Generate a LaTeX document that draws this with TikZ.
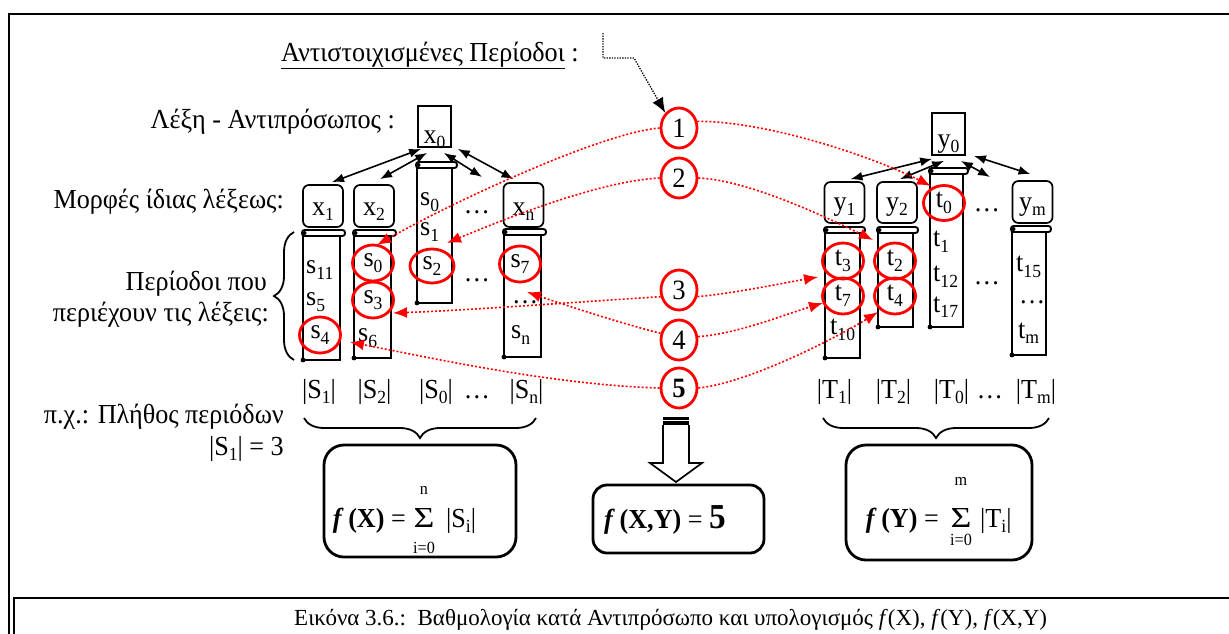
\documentclass[tikz,border=0pt]{standalone}
\usepackage{fontspec}
\setmainfont{Liberation Serif}[FakeStretch=0.95]
\newfontfamily\capfont{Liberation Serif}
\usetikzlibrary{arrows.meta,shapes.geometric,decorations.pathreplacing}

\newcommand\setfs[1]{\fontsize{#1}{#1}\selectfont}
\newcommand\sbs[1]{\raisebox{-0.2em}{\setfs{18.5}#1}}
\newcommand\bigsum{\scalebox{1.3}[1]{\setfs{29}Σ}}
% scroll: left, right, roll line, bottom
\newcommand\scrollat[4]{%
  \draw[scrollline] (#1,#3) -- (#1,#4) -- (#2,#4) -- (#2,#3);
  \draw[scrollline, fill=white, rounded corners=2.6pt] (#1-1,#3-3) rectangle (#2+5,#3+3);
  \fill (#1+1.5,#3) circle (2pt);
  \fill (#1,#4) circle (2.4pt);
}

\begin{document}
\begin{tikzpicture}[x=1pt,y=-1pt,
  lbl/.style={inner sep=0pt, font=\setfs{27.5}},
  rbox/.style={draw, line width=1.7pt, rounded corners=6pt, minimum width=40pt, inner sep=0pt, font=\setfs{27.5}},
  sqbox/.style={draw, line width=1.7pt, minimum width=33pt, inner sep=0pt, font=\setfs{27.5}},
  ring/.style={ellipse, draw=red, line width=2.8pt, inner sep=0pt, minimum width=41pt, minimum height=36pt, font=\setfs{27.5}},
  num/.style={ellipse, draw=red, line width=2.8pt, inner sep=0pt, minimum width=36pt, minimum height=40pt, font=\setfs{28}},
  link/.style={red, line width=1.6pt, dash pattern=on 2pt off 2pt, -{Latex[length=14pt,width=11pt]}},
  tree/.style={line width=1.6pt, {Latex[length=12pt,width=9pt]}-{Latex[length=12pt,width=9pt]}},
  hintline/.style={line width=1.3pt, dash pattern=on 1.3pt off 1.3pt, -{Latex[length=15pt,width=12pt]}},
  scrollline/.style={line width=1.9pt},
  fbox/.style={draw, line width=2.8pt, rounded corners=20pt},
  brc/.style={decorate, decoration={brace, amplitude=20pt}, line width=1.8pt}]
\useasboundingbox (0,0) rectangle (1229,633);

% frame and caption box
\draw[line width=2.2pt] (9,650) -- (9,14) -- (1250,14);
\draw[line width=2pt] (14,650) -- (14,598) -- (1250,598);
\node[inner sep=0pt, anchor=base west, font=\capfont\setfs{23}] (cap) at (294,625)
  {Εικόνα 3.6.:\ \ Βαθμολογία κατά Αντιπρόσωπο και υπολογισμός \textit{f}(X), \textit{f}(Y), \textit{f}(X,Y)};

% titles on the left
\node[lbl, anchor=base west] (title) at (281,61) {\underline{Αντιστοιχισμένες Περίοδοι} :};
\coordinate (hint) at (603,33);
\node[lbl, anchor=base east] (lrep) at (395,128) {Λέξη - Αντιπρόσωπος :};
\node[lbl, anchor=base east] (lforms) at (284,208) {Μορφές ίδιας λέξεως:};
\node[lbl, anchor=base east] (lper1) at (267,290) {Περίοδοι που};
\node[lbl, anchor=base east] (lper2) at (269,321) {περιέχουν τις λέξεις:};
\node[lbl, anchor=base east] (lex1) at (284,423) {π.χ.: Πλήθος περιόδων};
\node[lbl, anchor=base east] (lex2) at (284,455) {|S\sbs{1}| = 3};

% scrolls of periods
\scrollat{303}{340}{233}{360}
\scrollat{354}{391}{233}{358}
\scrollat{417}{452}{165}{303}
\scrollat{504}{541}{232}{357}
\scrollat{825}{860}{230}{358}
\scrollat{878}{913}{230}{327}
\scrollat{930}{963}{171}{327}
\scrollat{1012}{1046}{229}{355}

% word forms
\node[sqbox, text height=37pt, text depth=4pt, anchor=base] (x0) at (434.5,143) {x\sbs{0}};
\node[rbox, text height=30pt, text depth=12pt, anchor=base] (x1) at (323,215) {x\sbs{1}};
\node[rbox, text height=30pt, text depth=12pt, anchor=base] (x2) at (374,215) {x\sbs{2}};
\node[rbox, text height=32pt, text depth=12pt, anchor=base] (xn) at (523.5,215) {x\sbs{n}};
\node[sqbox, text height=34pt, text depth=8pt, anchor=base] (y0) at (948.5,147) {y\sbs{0}};
\node[rbox, text height=28pt, text depth=13pt, anchor=base] (y1) at (844.5,210) {y\sbs{1}};
\node[rbox, text height=28pt, text depth=13pt, anchor=base] (y2) at (897,210) {y\sbs{2}};
\node[rbox, text height=29pt, text depth=13pt, anchor=base] (ym) at (1032.5,210) {y\sbs{m}};

\node[lbl] (dl1) at (477,212) {…};
\node[lbl] (dl2) at (477,280) {…};
\node[lbl] (dr1) at (987,210) {…};
\node[lbl] (dr2) at (987,283) {…};

% periods of the X forms
\node[lbl, anchor=west] (s11) at (306,270) {s\sbs{11}};
\node[lbl, anchor=west] (s5) at (306,302) {s\sbs{5}};
\node[ring] (rs4) at (320,335) {s\sbs{4}};
\node[ring] (rs0) at (373,263) {s\sbs{0}};
\node[ring] (rs3) at (373,300) {s\sbs{3}};
\node[lbl, anchor=west] (s6) at (358,338) {s\sbs{6}};
\node[lbl, anchor=west] (s0m) at (420,202) {s\sbs{0}};
\node[lbl, anchor=west] (s1m) at (420,232) {s\sbs{1}};
\node[ring, minimum width=44pt, minimum height=34pt] (rs2) at (432,266) {s\sbs{2}};
\node[ring] (rs7) at (520,264) {s\sbs{7}};
\node[lbl, anchor=west] (sdots) at (512,302) {…};
\node[lbl, anchor=west] (sn) at (511,335) {s\sbs{n}};

% periods of the Y forms
\node[ring] (rt3) at (843,261) {t\sbs{3}};
\node[ring] (rt7) at (843,296) {t\sbs{7}};
\node[lbl, anchor=west] (t10) at (830,330) {t\sbs{10}};
\node[ring] (rt2) at (895,261) {t\sbs{2}};
\node[ring] (rt4) at (895,296) {t\sbs{4}};
\node[ring, minimum height=35pt] (rt0) at (944,203) {t\sbs{0}};
\node[lbl, anchor=west] (t1) at (933,242) {t\sbs{1}};
\node[lbl, anchor=west] (t12) at (933,277) {t\sbs{12}};
\node[lbl, anchor=west] (t17) at (933,307) {t\sbs{17}};
\node[lbl, anchor=west] (t15) at (1016,267) {t\sbs{15}};
\node[lbl, anchor=west] (tdots) at (1019,302) {…};
\node[lbl, anchor=west] (tm) at (1018,333) {t\sbs{m}};

% sizes of the period sets
\node[lbl, anchor=base] (nS1) at (319,398) {|S\sbs{1}|};
\node[lbl, anchor=base] (nS2) at (374.5,398) {|S\sbs{2}|};
\node[lbl, anchor=base] (nS0) at (436,398) {|S\sbs{0}|};
\node[lbl, anchor=base] (nSd) at (477,398) {…};
\node[lbl, anchor=base] (nSn) at (526.5,398) {|S\sbs{n}|};
\node[lbl, anchor=base] (nT1) at (834.5,398) {|T\sbs{1}|};
\node[lbl, anchor=base] (nT2) at (893.5,398) {|T\sbs{2}|};
\node[lbl, anchor=base] (nT0) at (951.5,398) {|T\sbs{0}|};
\node[lbl, anchor=base] (nTd) at (990,398) {…};
\node[lbl, anchor=base] (nTm) at (1036,398) {|T\sbs{m}|};

% braces
\draw[brc] (294,360) -- (294,232);
\draw[brc] (536,418) -- (304,418);
\draw[brc] (1049,418) -- (823,418);

% score boxes
\node[fbox, minimum width=192pt, minimum height=112pt] (fX) at (420,501) {};
\node[lbl, anchor=base east] (fXl) at (406,527) {\textbf{\textit{f}\,(X)} =};
\node[lbl, anchor=base] (fXs) at (424,527) {\bigsum};
\node[lbl, font=\setfs{17}] (fXn) at (424,490) {n};
\node[lbl, font=\setfs{17}] (fXi) at (424,548) {i=0};
\node[lbl, anchor=base west] (fXr) at (446,527) {|S\sbs{i}|};

\node[fbox, minimum width=186pt, minimum height=115pt] (fY) at (939,502.5) {};
\node[lbl, anchor=base east] (fYl) at (939,527) {\textbf{\textit{f}\,(Y)} =};
\node[lbl, anchor=base] (fYs) at (961,527) {\bigsum};
\node[lbl, font=\setfs{17}] (fYm) at (961,481) {m};
\node[lbl, font=\setfs{17}] (fYi) at (961,540) {i=0};
\node[lbl, anchor=base west] (fYr) at (980,527) {|T\sbs{i}|};

\node[fbox, rounded corners=14pt, minimum width=171pt, minimum height=68pt] (fXY) at (678.5,519) {};
\node[lbl, anchor=base west] (fXYt) at (604,528) {\textbf{\textit{f}\,(X,Y)} = {\setfs{35}\bfseries 5}};

% matched periods
\node[num] (c1) at (679,128) {1};
\node[num] (c2) at (679,178) {2};
\node[num] (c3) at (679,290) {3};
\node[num] (c4) at (679,340) {4};
\node[num, font=\setfs{28}\bfseries] (c5) at (679,388) {5};

% sum arrow
\fill (663,417) rectangle (689,419.5);
\fill (663,421) rectangle (689,425.5);
\draw[line width=1.7pt, fill=white] (663,425) -- (663,463) -- (650,463) -- (676,482) -- (702,463) -- (689,463) -- (689,425);

% word tree arrows
\coordinate (tl3) at (482,177);
\coordinate (tr3) at (990,177);
\draw[tree] ([xshift=4pt,yshift=-1pt]x0.south west) -- ([xshift=9pt,yshift=2pt]x1.north);
\draw[tree] ([xshift=10pt,yshift=-5pt]x0.south west) -- ([xshift=6pt,yshift=5pt]x2.north);
\draw[tree] ([xshift=-8pt,yshift=-5pt]x0.south east) -- (tl3);
\draw[tree] ([xshift=6pt,yshift=-1pt]x0.south east) -- ([xshift=-10pt,yshift=3pt]xn.north);
\draw[tree] ([xshift=1pt,yshift=-3pt]y0.south west) -- ([xshift=6pt,yshift=2pt]y1.north);
\draw[tree] ([xshift=13pt,yshift=-5pt]y0.south west) -- ([xshift=3pt,yshift=2pt]y2.north);
\draw[tree] ([xshift=-5pt,yshift=-5pt]y0.south east) -- (tr3);
\draw[tree] ([xshift=8pt]y0.south east) -- ([xshift=-2pt,yshift=6pt]ym.north);

% dotted pointer from the heading
\draw[hintline] (hint) -- (603,58) -- (634,58) -- (c1.north west);

% correspondence links
\coordinate (e1L) at (377,245);
\coordinate (e1R) at (931,186);
\coordinate (e2L) at (447,243);
\coordinate (e2R) at (873,240);
\coordinate (e3L) at (393,313);
\coordinate (e3R) at (818,277);
\coordinate (e4L) at (527,292);
\coordinate (e4R) at (823,303);
\coordinate (e5L) at (350,342);
\coordinate (e5R) at (878,312);
\draw[link] (c1.west) .. controls +(-60,5) and +(70,-40) .. (e1L);
\draw[link] (c1.20) .. controls +(70,0) and +(-60,-30) .. (e1R);
\draw[link] (c2.west) .. controls +(-60,3) and +(60,-25) .. (e2L);
\draw[link] (c2.east) .. controls +(50,2) and +(-45,-22) .. (e2R);
\draw[link] (c3.200) .. controls +(-80,5) and +(80,-3) .. (e3L);
\draw[link] (c3.-20) .. controls +(40,-4) and +(-40,7) .. (e3R);
\draw[link] (c4.160) .. controls +(-40,-10) and +(35,12) .. (e4L);
\draw[link] (c4.10) .. controls +(40,-3) and +(-40,12) .. (e4R);
\draw[link] (c5.west) .. controls +(-100,-3) and +(100,20) .. (e5L);
\draw[link] (c5.east) .. controls +(50,-5) and +(-40,25) .. (e5R);
\end{tikzpicture}
\end{document}
